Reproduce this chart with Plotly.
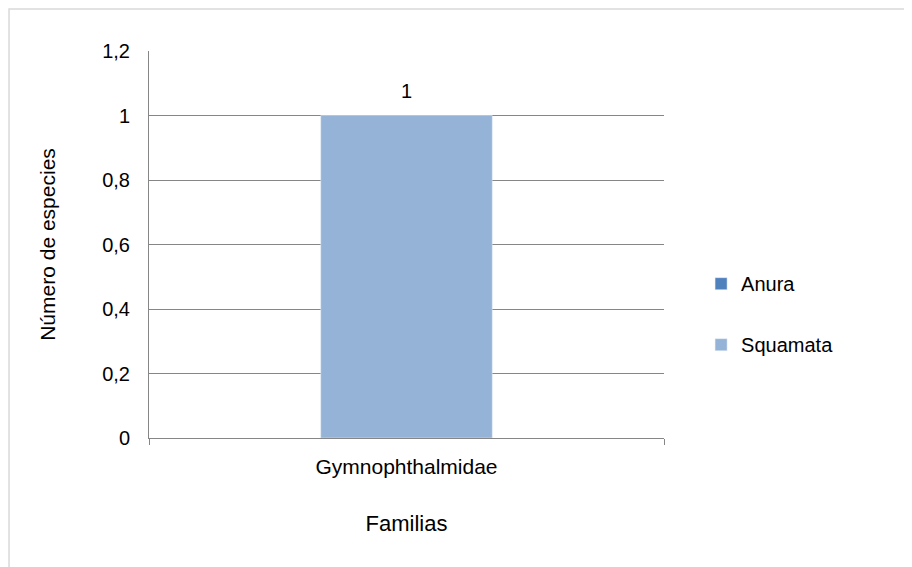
import plotly.graph_objects as go

categories = ["Gymnophthalmidae"]
anura = [None]
squamata = [1]
series_names = ["Anura", "Squamata"]
colors = ["#4F81BD", "#95B3D7"]

FONT = "Liberation Sans, Arial, sans-serif"
BLACK = "#000"

fig = go.Figure()
fig.add_trace(go.Bar(x=categories, y=anura, name=series_names[0], marker_color=colors[0],
                     width=0.333, legendgroup="a"))
fig.add_trace(go.Bar(x=categories, y=squamata, name=series_names[1], marker_color=colors[1],
                     width=0.333, legendgroup="b"))

# data labels
for c, v in zip(categories, squamata):
    fig.add_annotation(x=c, y=v, text=str(v).replace(".", ","), showarrow=False,
                       yanchor="bottom", yshift=12,
                       font=dict(size=20, family=FONT, color=BLACK))

# chart frame
fig.add_shape(type="rect", xref="paper", yref="paper",
              x0=-0.2718, x1=1.8, y0=-0.6, y1=1.1085,
              line=dict(color="#D9D9D9", width=1.5), fillcolor="rgba(0,0,0,0)", layer="below")

fig.update_layout(
    width=912, height=567,
    margin=dict(l=141, r=256, t=43, b=137),
    paper_bgcolor="white", plot_bgcolor="white",
    separators=", ",
    barmode="overlay",
    font=dict(family=FONT, color=BLACK, size=20),
    showlegend=True,
    legend=dict(x=1.072, y=0.32, xanchor="left", yanchor="middle",
                font=dict(size=20, family=FONT, color=BLACK),
                tracegroupgap=32, itemwidth=30, bgcolor="rgba(0,0,0,0)"),
    xaxis=dict(
        type="category",
        showline=True, linecolor="#868686", linewidth=1,
        ticks="outside", tickson="boundaries", ticklen=6, tickcolor="#868686",
        ticklabelstandoff=10,
        tickfont=dict(size=21, family=FONT, color=BLACK),
        showgrid=False,
        title=dict(text="Familias", font=dict(size=22, family=FONT, color=BLACK), standoff=38),
    ),
    yaxis=dict(
        range=[0, 1.2], dtick=0.2, tick0=0,
        showline=True, linecolor="#868686", linewidth=1,
        showgrid=True, gridcolor="#868686", gridwidth=1,
        ticks="", ticklabelstandoff=14,
        tickfont=dict(size=20, family=FONT, color=BLACK),
        zeroline=False,
        title=dict(text="Número de especies", font=dict(size=21, family=FONT, color=BLACK), standoff=40),
    ),
)

fig.write_html("out.html")
